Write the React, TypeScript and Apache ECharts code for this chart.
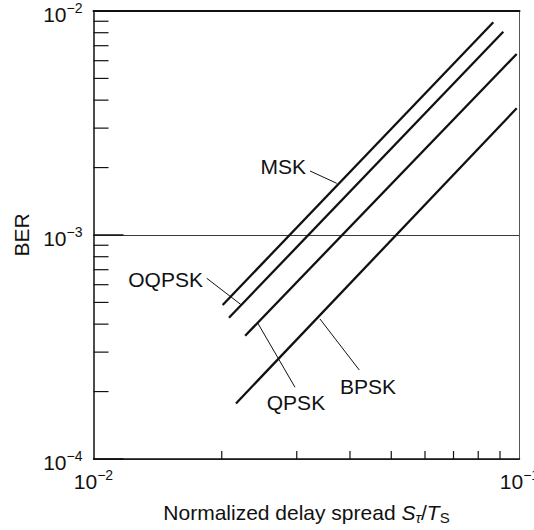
import React, { useEffect, useRef } from 'react';
import * as echarts from 'echarts';

// ---- data ----
const seriesNames = ['MSK', 'OQPSK', 'QPSK', 'BPSK'];
const mskPoints = [[0.0201, 4.87e-4], [0.0868, 8.91e-3]];
const oqpskPoints = [[0.0208, 4.27e-4], [0.0916, 8.08e-3]];
const qpskPoints = [[0.0227, 3.55e-4], [0.0985, 6.43e-3]];
const bpskPoints = [[0.0216, 1.77e-4], [0.0985, 3.68e-3]];

const xTickExponents = [-2, -1];
const xTickLabels = ['10{s|−2}', '10{s|−1}'];
const yTickExponents = [-4, -3, -2];
const yTickLabels = ['10{s|−4}', '10{s|−3}', '10{s|−2}'];

const xMinorTicks = [0.02, 0.03, 0.04, 0.05, 0.06, 0.07, 0.08, 0.09];
const yMinorTicks = [
  2e-4, 3e-4, 4e-4, 5e-4, 6e-4, 7e-4, 8e-4, 9e-4,
  2e-3, 3e-3, 4e-3, 5e-3, 6e-3, 7e-3, 8e-3, 9e-3,
];

// annotation: [labelX, labelY, leaderFromX, leaderFromY, leaderToX, leaderToY]
const annotationLabels = ['MSK', 'OQPSK', 'QPSK', 'BPSK'];
const annotationAlign = ['right', 'right', 'center', 'center'];
const annotationPoints = [
  [0.03154, 2.012e-3, 0.03223, 1.931e-3, 0.03724, 1.701e-3],
  [0.01807, 6.33e-4, 0.01844, 6.41e-4, 0.02216, 4.9e-4],
  [0.02987, 1.788e-4, 0.02972, 2.09e-4, 0.02424, 4.076e-4],
  [0.0441, 2.107e-4, 0.04207, 2.496e-4, 0.03401, 4.217e-4],
];

const FONT = '"Liberation Sans", Arial, Helvetica, sans-serif';
const INK = '#111111';

function labelFor(v: number, exps: number[], labels: string[]) {
  const e = Math.round(Math.log10(v));
  const i = exps.indexOf(e);
  return i >= 0 ? labels[i] : '';
}

const supRich = {
  b: { fontSize: 21, fontFamily: FONT, color: INK, lineHeight: 26 },
  s: { fontSize: 14, fontFamily: FONT, color: INK, lineHeight: 14, verticalAlign: 'top' },
};

export default function App() {
  const ref = useRef<HTMLDivElement>(null);
  useEffect(() => {
    if (!ref.current) return;
    const chart = echarts.init(ref.current, undefined, { renderer: 'svg' });
    const lineData = [mskPoints, oqpskPoints, qpskPoints, bpskPoints];
    const option: any = {
      animation: false,
      backgroundColor: '#ffffff',
      grid: {
        left: 93.5,
        right: 14.5,
        top: 11,
        bottom: 71,
        containLabel: false,
        outerBoundsMode: 'none',
      },
      xAxis: [
        {
          type: 'log',
          logBase: 10,
          min: 0.01,
          max: 0.1,
          position: 'bottom',
          axisLine: { lineStyle: { color: INK, width: 1.5 } },
          axisTick: { show: false },
          splitLine: { show: false },
          axisLabel: {
            margin: 9,
            showMinLabel: true,
            showMaxLabel: true,
            hideOverlap: false,
            formatter: (v: number) => '{b|' + labelFor(v, xTickExponents, xTickLabels).replace('{s|', '}{s|'),
            rich: supRich,
          },
          name: 'Normalized delay spread {i|S}{t|τ}{n|/}{i|T}{u|S}',
          nameLocation: 'middle',
          nameGap: 40,
          nameTextStyle: {
            fontSize: 21,
            fontFamily: FONT,
            color: INK,
            lineHeight: 26,
            rich: {
              i: { fontSize: 21, fontFamily: FONT, color: INK, fontStyle: 'italic', lineHeight: 26 },
              n: { fontSize: 21, fontFamily: FONT, color: INK, lineHeight: 26 },
              t: { fontSize: 15, fontFamily: FONT, color: INK, fontStyle: 'italic', lineHeight: 15, verticalAlign: 'bottom' },
              u: { fontSize: 15, fontFamily: FONT, color: INK, lineHeight: 15, verticalAlign: 'bottom' },
            },
          },
        },
        {
          type: 'log',
          logBase: 10,
          min: 0.01,
          max: 0.1,
          position: 'top',
          axisLine: { lineStyle: { color: INK, width: 2 } },
          axisTick: { show: false },
          axisLabel: { show: false },
          splitLine: { show: false },
        },
      ],
      yAxis: [
        {
          type: 'log',
          logBase: 10,
          min: 1e-4,
          max: 1e-2,
          position: 'left',
          axisLine: { lineStyle: { color: INK, width: 1.5 } },
          axisTick: { show: true, inside: true, length: 30, lineStyle: { color: INK, width: 1.5 } },
          splitLine: { show: true, lineStyle: { color: '#3a3a3a', width: 1 } },
          axisLabel: {
            margin: 11,
            padding: [6, 0, 0, 0],
            showMinLabel: true,
            showMaxLabel: true,
            formatter: (v: number) => '{b|' + labelFor(v, yTickExponents, yTickLabels).replace('{s|', '}{s|'),
            rich: supRich,
          },
          name: 'BER',
          nameLocation: 'middle',
          nameRotate: 90,
          nameGap: 62,
          nameTextStyle: { fontSize: 21, fontFamily: FONT, color: INK },
        },
        {
          type: 'log',
          logBase: 10,
          min: 1e-4,
          max: 1e-2,
          position: 'right',
          axisLine: { lineStyle: { color: '#555555', width: 1 } },
          axisTick: { show: false },
          axisLabel: { show: false },
          splitLine: { show: false },
        },
      ],
      series: [
        ...lineData.map((d, k) => ({
          type: 'line',
          name: seriesNames[k],
          data: d,
          showSymbol: false,
          symbol: 'none',
          lineStyle: { color: INK, width: 2.3 },
          z: 3,
        })),
        {
          type: 'custom',
          name: 'yMinorTicks',
          data: yMinorTicks.map((v) => [0.01, v]),
          renderItem: (_p: any, api: any) => {
            const c = api.coord([api.value(0), api.value(1)]);
            return {
              type: 'line',
              shape: { x1: c[0], y1: c[1], x2: c[0] + 15, y2: c[1] },
              style: { stroke: INK, lineWidth: 1.2 },
            };
          },
          z: 2,
        },
        {
          type: 'custom',
          name: 'xMinorTicks',
          data: xMinorTicks.map((v) => [v, 1e-4]),
          renderItem: (_p: any, api: any) => {
            const c = api.coord([api.value(0), api.value(1)]);
            return {
              type: 'line',
              shape: { x1: c[0], y1: c[1], x2: c[0], y2: c[1] - 8 },
              style: { stroke: INK, lineWidth: 1.2 },
            };
          },
          z: 2,
        },
        {
          type: 'custom',
          name: 'annotations',
          dimensions: ['lx', 'ly', 'fx', 'fy', 'tx', 'ty'],
          encode: { x: [0, 2, 4], y: [1, 3, 5] },
          data: annotationPoints,
          renderItem: (p: any, api: any) => {
            const i = p.dataIndex;
            const lab = api.coord([api.value(0), api.value(1)]);
            const a = api.coord([api.value(2), api.value(3)]);
            const b = api.coord([api.value(4), api.value(5)]);
            return {
              type: 'group',
              children: [
                {
                  type: 'line',
                  shape: { x1: a[0], y1: a[1], x2: b[0], y2: b[1] },
                  style: { stroke: INK, lineWidth: 1 },
                },
                {
                  type: 'text',
                  x: lab[0],
                  y: lab[1],
                  style: {
                    text: annotationLabels[i],
                    fontSize: 21,
                    fontFamily: FONT,
                    fill: INK,
                    align: annotationAlign[i],
                    verticalAlign: 'middle',
                  },
                },
              ],
            };
          },
          z: 4,
        },
      ],
    };
    chart.setOption(option);
    return () => chart.dispose();
  }, []);
  return (
    <div
      ref={ref}
      style={{ position: 'fixed', left: 0, top: 0, width: 534, height: 530, background: '#fff' }}
    />
  );
}
